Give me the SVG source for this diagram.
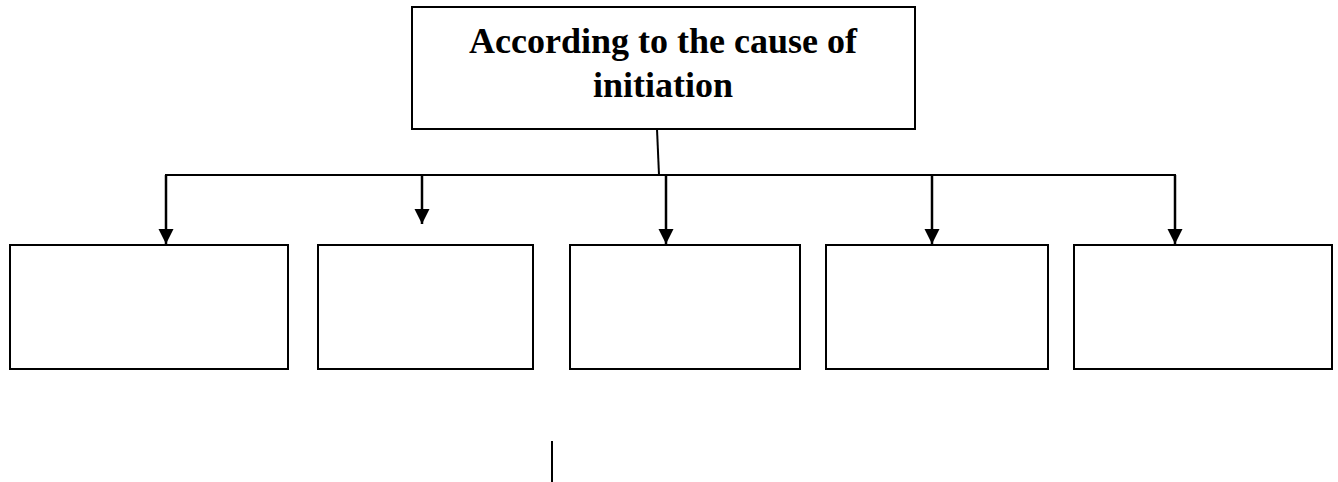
<svg xmlns="http://www.w3.org/2000/svg" width="1338" height="482" viewBox="0 0 1338 482">
<style>
.box{fill:#fff;stroke:#000;stroke-width:2}
.ln{fill:none;stroke:#000;stroke-width:2}
.ar{fill:none;stroke:#000;stroke-width:2.5}
.t{font-family:"Liberation Serif","Times New Roman",serif;font-weight:bold;font-size:36px;fill:#000;text-anchor:middle}
</style>
<defs>
<marker id="ah" markerWidth="16" markerHeight="16" refX="15" refY="7.5" orient="auto" markerUnits="userSpaceOnUse">
<path d="M0,0 L15,7.5 L0,15 Z" fill="#000"/>
</marker>
</defs>
<rect width="1338" height="482" fill="#fff"/>
<g id="top">
<rect class="box" x="412" y="7" width="503" height="122"/>
<text class="t" x="663" y="53">According to the cause of</text>
<text class="t" x="663" y="97">initiation</text>
</g>
<g id="b1"><rect class="box" x="10" y="245" width="278" height="124"/></g>
<g id="b2"><rect class="box" x="318" y="245" width="215" height="124"/></g>
<g id="b3"><rect class="box" x="570" y="245" width="230" height="124"/></g>
<g id="b4"><rect class="box" x="826" y="245" width="222" height="124"/></g>
<g id="b5"><rect class="box" x="1074" y="245" width="258" height="124"/></g>
<g id="connectors">
<path class="ln" d="M657,129 L659,175"/>
<path class="ln" d="M165,175 L1176,175"/>
<path class="ar" d="M166,175 L166,244" marker-end="url(#ah)"/>
<path class="ar" d="M422,175 L422,224" marker-end="url(#ah)"/>
<path class="ar" d="M666,175 L666,244" marker-end="url(#ah)"/>
<path class="ar" d="M932,175 L932,244" marker-end="url(#ah)"/>
<path class="ar" d="M1175,175 L1175,244" marker-end="url(#ah)"/>
<path class="ln" d="M552,441 L552,482"/>
</g>
</svg>
